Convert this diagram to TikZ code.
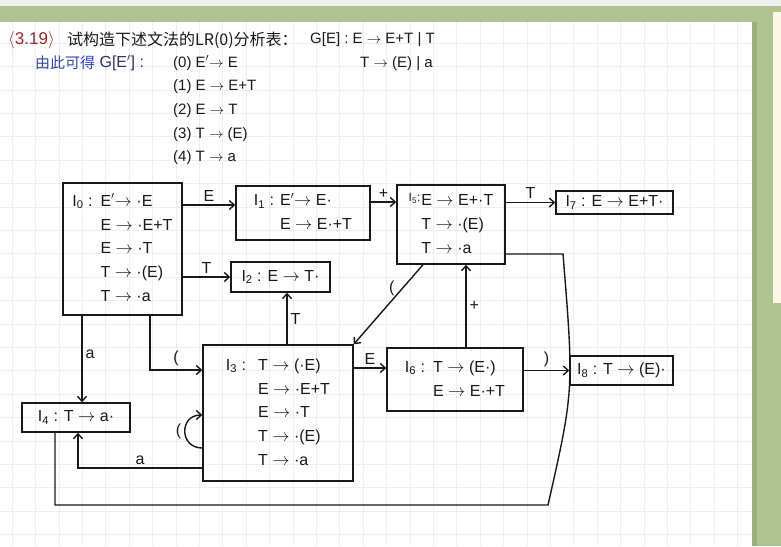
\documentclass[tikz,border=0pt]{standalone}
\usepackage{fontspec}
\setmainfont{Liberation Sans}
\newfontfamily\cjkfont{Noto Sans CJK SC}
\usetikzlibrary{arrows.meta}

\definecolor{inkblack}{RGB}{25,25,25}
\definecolor{inkred}{RGB}{165,35,40}
\definecolor{inkblue}{RGB}{45,75,170}
\definecolor{inknavy}{RGB}{40,50,100}
\definecolor{framegreen}{RGB}{176,196,146}
\definecolor{framedark}{RGB}{152,176,122}
\definecolor{paleyellow}{RGB}{252,248,228}
\definecolor{gridgray}{RGB}{237,238,242}

\newcommand{\Iset}[1]{I\textsubscript{#1}}
\newcommand{\gto}{$\rightarrow$}
\renewcommand{\arraystretch}{1.25}

\tikzset{
  state/.style={draw=inkblack, line width=1.4pt, inner sep=2pt, text=inkblack,
    font=\fontsize{16}{19}\selectfont},
  edge/.style={draw=inkblack, line width=1.4pt, -{Straight Barb[length=5pt,width=9pt]}},
  plainline/.style={draw=inkblack, line width=1.4pt},
  lbl/.style={font=\fontsize{16}{19}\selectfont, text=inkblack, inner sep=3pt},
  head/.style={font=\fontsize{15}{17}\selectfont, anchor=west, inner sep=0pt, text=inkblack},
  gridline/.style={gridgray, line width=0.6pt},
}

\begin{document}
\begin{tikzpicture}[x=1pt, y=-1pt]
  \useasboundingbox (0,0) rectangle (781,546);
  % paper, frame and grid
  \fill[black!6] (0,0) rectangle (781,6);
  \fill[framegreen] (0,6) rectangle (781,22);
  \fill[white] (0,22) rectangle (752,546);
  \foreach \k in {0,...,31} {
    \draw[gridline] ({12+23.4*\k},22) -- ({12+23.4*\k},546);
  }
  \foreach \k in {0,...,21} {
    \draw[gridline] (0,{43+23.4*\k}) -- (752,{43+23.4*\k});
  }
  \fill[framegreen] (752,6) rectangle (781,546);
  \fill[framedark] (752,22) rectangle (757,546);
  \fill[paleyellow] (773,12) rectangle (781,303);

  % heading
  \node[head, text=inkred, font=\fontsize{17}{19}\selectfont] (num) at (8,40) {$\langle$3.19$\rangle$};
  \node[head, font=\cjkfont\fontsize{16}{18}\selectfont] (task) at (67,40) {试构造下述文法的LR(0)分析表：};
  \node[head] (gramA) at (310,40) {G[E] : E \gto{} E+T | T};
  \node[head] (gramB) at (360,64) {T \gto{} (E) | a};
  \node[head, font=\cjkfont\fontsize{15}{17}\selectfont, text=inkblue] (derive) at (35,63) {由此可得};
  \node[head, text=inknavy, right=4pt, font=\fontsize{16}{18}\selectfont] (augm) at (derive.east) {G[E$'$] :};
  % productions
  \node[head] (prod0) at (173,63) {(0) E$'$\gto{} E};
  \node[head] (prod1) at (173,87) {(1) E \gto{} E+T};
  \node[head] (prod2) at (173,111) {(2) E \gto{} T};
  \node[head] (prod3) at (173,135) {(3) T \gto{} (E)};
  \node[head] (prod4) at (173,158) {(4) T \gto{} a};

  % item sets
  \node[state, minimum width=119pt, minimum height=132pt] (I0) at (122.5,249)
    {\begin{tabular}{@{}l@{\hspace{8pt}}l@{}}
      \Iset{0} : & E$'$\gto{} ·E\\ & E \gto{} ·E+T\\ & E \gto{} ·T\\ & T \gto{} ·(E)\\ & T \gto{} ·a
    \end{tabular}};
  \node[state, minimum width=134pt, minimum height=54pt] (I1) at (303,213)
    {\begin{tabular}{@{}l@{\hspace{6pt}}l@{}}
      \Iset{1} : & E$'$\gto{} E·\\ & E \gto{} E·+T
    \end{tabular}};
  \node[state, minimum width=99pt, minimum height=30pt] (I2) at (280.5,277) {\Iset{2} : E \gto{} T·};
  \node[state, minimum width=108pt, minimum height=79pt] (I5) at (451,224.5)
    {\begin{tabular}{@{}l@{\hspace{1pt}}l@{}}
      \raisebox{4pt}{\fontsize{12}{14}\selectfont\Iset{5}:} & E \gto{} E+·T\\ & T \gto{} ·(E)\\ & T \gto{} ·a
    \end{tabular}};
  \node[state, minimum width=117pt, minimum height=23pt] (I7) at (614.5,202.5) {\Iset{7} : E \gto{} E+T·};
  \node[state, minimum width=150pt, minimum height=136pt] (I3) at (278,413)
    {\begin{tabular}{@{}l@{\hspace{12pt}}l@{}}
      \Iset{3} : & T \gto{} (·E)\\ & E \gto{} ·E+T\\ & E \gto{} ·T\\ & T \gto{} ·(E)\\ & T \gto{} ·a
    \end{tabular}};
  \node[state, minimum width=108pt, minimum height=29pt] (I4) at (76,417.5) {\Iset{4} : T \gto{} a·};
  \node[state, minimum width=136pt, minimum height=63pt] (I6) at (455,379.5)
    {\begin{tabular}{@{}l@{\hspace{8pt}}l@{}}
      \Iset{6} : & T \gto{} (E·)\\ & E \gto{} E·+T
    \end{tabular}};
  \node[state, minimum width=103pt, minimum height=29pt] (I8) at (621.5,370.5) {\Iset{8} : T \gto{} (E)·};

  % transitions
  \coordinate (tE1) at ([yshift=8pt]I1.west);
  \draw[edge] (I0.east |- tE1) -- node[lbl, above] {E} (tE1);
  \draw[edge] (I0.east |- I2.west) -- node[lbl, above] {T} (I2.west);
  \coordinate (fP1) at ([yshift=11pt]I1.east);
  \draw[edge] (fP1) -- node[lbl, above] {+} (fP1 -| I5.west);
  \draw[edge] (I5.east |- I7.west) -- node[lbl, above] {T} (I7.west);
  \coordinate (tA4) at ([xshift=6pt]I4.north);
  \draw[edge] (tA4 |- I0.south) -- node[lbl, right, pos=0.45] {a} (tA4);
  \coordinate (fL0) at ([xshift=27.5pt]I0.south);
  \coordinate (tL3) at ([yshift=43pt]I3.west);
  \draw[edge] (fL0) |- node[lbl, above, pos=0.75] {(} (tL3);
  \coordinate (fT3) at ([xshift=9pt]I3.north);
  \draw[edge] (fT3) -- node[lbl, right] {T} (fT3 |- I2.south);
  \coordinate (fL5) at ([xshift=-28pt]I5.south);
  \draw[edge] (fL5) -- node[lbl, left, pos=0.3, xshift=-4pt] {(} (I3.north east);
  \coordinate (fP6) at ([xshift=11pt]I6.north);
  \draw[edge] (fP6) -- node[lbl, right] {+} (fP6 |- I5.south);
  \coordinate (fE3) at ([yshift=45pt]I3.east);
  \draw[edge] (fE3) -- node[lbl, above] {E} (fE3 -| I6.west);
  \draw[edge] (I6.east |- I8.west) -- node[lbl, above] {)} (I8.west);
  % loop on ( and back to I4 on a
  \draw[edge] ([yshift=-35pt]I3.west) to[out=180, in=180, looseness=1.8]
    node[lbl, left] {(} ([yshift=-2pt]I3.west);
  \draw[edge] ([yshift=-55pt]I3.west) -| node[lbl, above, pos=0.25] {a} ([xshift=2pt]I4.south);
  % long way round from I5
  \coordinate (bendA) at (563,254);
  \coordinate (bendB) at (548,505);
  \coordinate (bendC) at (55,505);
  \draw[plainline] (I5.east |- bendA) -- (bendA) .. controls (574,390) .. (bendB)
    -- (bendC) -- (bendC |- I4.south);
\end{tikzpicture}
\end{document}
